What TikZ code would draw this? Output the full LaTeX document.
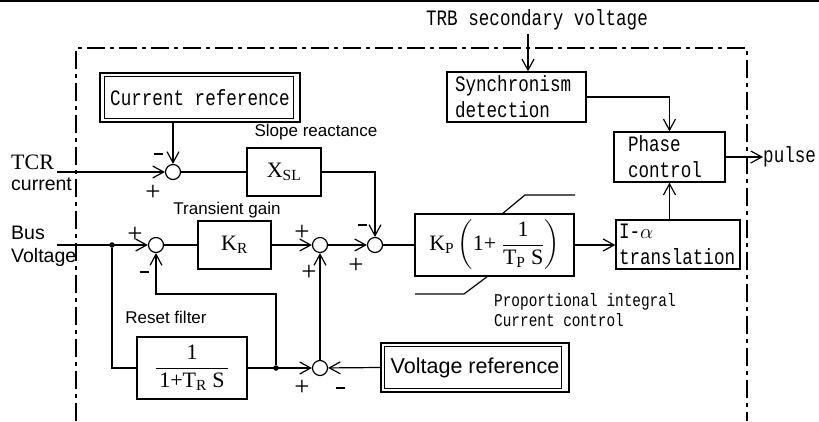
\documentclass[tikz,border=0pt]{standalone}
\usepackage{amsmath}
\usepackage{fontspec}
\setmainfont{Liberation Serif}
\newfontfamily\monofnt[FakeStretch=0.8]{Liberation Mono}
\newfontfamily\sansfnt{Liberation Sans}
\newcommand\monoL{\monofnt\fontsize{22}{26}\selectfont}
\newcommand\monoS{\monofnt\fontsize{18}{20}\selectfont}
\newcommand\sansM{\sansfnt\fontsize{17}{20}\selectfont}
\newcommand\sansL{\sansfnt\fontsize{19.5}{25}\selectfont}
\newcommand\sansXL{\sansfnt\fontsize{21.5}{25}\selectfont}
\newcommand\serL{\rmfamily\fontsize{22}{26}\selectfont}
\newcommand\plusfnt{\rmfamily\fontsize{27}{28}\selectfont}
\usetikzlibrary{arrows.meta}
\tikzset{
  blk/.style={draw, line width=1.3pt, inner sep=0pt},
  sumj/.style={draw, circle, line width=1.2pt, minimum size=15pt, inner sep=0pt},
  dotn/.style={circle, fill, minimum size=5.5pt, inner sep=0pt},
  plus/.style={inner sep=0pt, font=\plusfnt},
  minus/.style={inner sep=0pt},
  lnk/.style={line width=1.2pt},
  arr/.style={lnk, -{Straight Barb[length=11pt,width=12pt,line width=1.2pt]}},
  lbl/.style={inner sep=0pt, font=\sansM},
}
\newcommand\minussign{\rule{9pt}{2.6pt}}
\begin{document}
\begin{tikzpicture}[x=1pt,y=-1pt]
\useasboundingbox (0,0) rectangle (819,421);
% top rule and frame
\draw[line width=1.5pt] (0,0.75) -- (819,0.75);
\draw[line width=1.2pt, dash pattern=on 18pt off 5pt on 4pt off 5pt] (76,421) -- (76,48) -- (747,48) -- (747,421);

% text inputs
\node[inner sep=0pt, font=\monoL] (trb) at (537,20) {TRB secondary voltage};
\coordinate (trbin) at (528,34);
\node[anchor=west, inner sep=0pt, font=\serL] (tcr) at (11,162) {TCR};
\node[anchor=west, inner sep=0pt, font=\sansL] (cur) at (11,184) {current};
\coordinate (tcrin) at (57,172);
\node[anchor=west, inner sep=0pt, font=\sansL] (bus) at (11,233) {Bus};
\node[anchor=west, inner sep=0pt, font=\sansL] (volt) at (11,257) {Voltage};
\coordinate (busin) at (57,245);

% blocks
\node[blk, minimum width=139pt, minimum height=50pt, text width=123pt, inner xsep=8pt, align=left, font=\monoL] (sync) at (516.5,97) {Synchronism\\detection};
\node[blk, minimum width=111pt, minimum height=50pt, text width=83pt, inner xsep=14pt, align=left, font=\monoL] (phase) at (669.5,157) {Phase\\control};
\node[blk, minimum width=124pt, minimum height=49pt, text width=118pt, inner xsep=3pt, align=left, font=\monoL] (ia) at (678,244.5) {I-$\alpha$\\translation};
\node[blk, minimum width=159pt, minimum height=62pt, font=\serL] (pi) at (494.5,245) {$\text{K}_{\text{P}}\left(\text{1+ }\dfrac{\text{1}}{\text{T}_{\text{P}}\text{ S}}\right)$};
\node[blk, minimum width=200pt, minimum height=49pt, font=\monoL] (cref) at (200,97.5) {Current reference};
\draw[line width=1.3pt] ([shift={(5,4)}]cref.north west) rectangle ([shift={(-7,-4)}]cref.south east);
\node[blk, minimum width=188pt, minimum height=49pt, font=\sansXL] (vref) at (475,367.5) {Voltage reference};
\draw[line width=1.3pt] ([shift={(4,4)}]vref.north west) rectangle ([shift={(-8,-4)}]vref.south east);
\node[blk, minimum width=74pt, minimum height=48pt, font=\serL] (xsl) at (284,172) {$\text{X}_{\text{SL}}$};
\node[blk, minimum width=73pt, minimum height=48pt, font=\serL] (kr) at (234.5,245) {$\text{K}_{\text{R}}$};
\node[blk, minimum width=110pt, minimum height=62pt, font=\serL] (reset) at (192,368) {$\dfrac{\text{1}}{\,\text{1+T}_{\text{R}}\text{ S}\,}$};

% summing junctions
\node[sumj] (S1) at (173,172) {};
\node[sumj] (S2) at (156,245) {};
\node[sumj] (S3) at (320,245) {};
\node[sumj] (S4) at (375,245) {};
\node[sumj] (S5) at (320,368) {};

% labels
\node[lbl] (slope) at (316,132) {Slope reactance};
\node[lbl] (trans) at (227,210) {Transient gain};
\node[lbl] (rf) at (166,317) {Reset filter};
\node[anchor=west, inner sep=0pt, align=left, font=\monoS] (picap) at (494,310) {Proportional integral\\Current control};
\node[anchor=west, inner sep=0pt, font=\monoL] (pulse) at (763,157) {pulse};

% saturation marks
\draw[lnk] (502,214) -- (525,195) -- (575,195);
\draw[lnk] (488,276) -- (464,294) -- (415,294);

% connectors
\draw[arr] (trbin) -- (trbin |- sync.north);
\draw[arr] (sync.east) -| (phase.north);
\draw[arr] (phase.east) -- (pulse.west);
\draw[arr] (ia.north -| phase.south) -- (phase.south);
\draw[arr] (S1 |- cref.south) -- (S1);
\draw[arr] (tcrin) -- (S1);
\draw[lnk] (S1) -- (xsl);
\draw[arr] (xsl.east) -| (S4);
\draw[arr] (busin) -- (S2);
\node[dotn] (D1) at (112,245) {};
\draw[lnk] (D1) |- (reset.west);
\draw[lnk] (S2) -- (kr);
\draw[arr] (kr) -- (S3);
\draw[arr] (S3) -- (S4);
\draw[lnk] (S4) -- (pi);
\draw[arr] (pi.east) -- (pi.east -| ia.west);
\draw[arr] (reset.east) -- (S5);
\node[dotn] (D2) at (276,368) {};
\coordinate (fbc) at (276,294);
\draw[arr] (D2) -- (fbc) -| (S2);
\draw[arr] (S5) -- (S3);
\draw[arr] (vref.west) -- (S5);

% signs
\node[minus] (m1) at (158,154) {\minussign};
\node[plus] (p1) at (153,193) {+};
\node[plus] (p2) at (135,235) {+};
\node[minus] (m2) at (144,272) {\minussign};
\node[plus] (p3) at (302,233) {+};
\node[plus] (p4) at (309,273) {+};
\node[minus] (m3) at (362,225) {\minussign};
\node[plus] (p5) at (356,266) {+};
\node[plus] (p6) at (302,388) {+};
\node[minus] (m4) at (340,388) {\minussign};
\end{tikzpicture}
\end{document}
